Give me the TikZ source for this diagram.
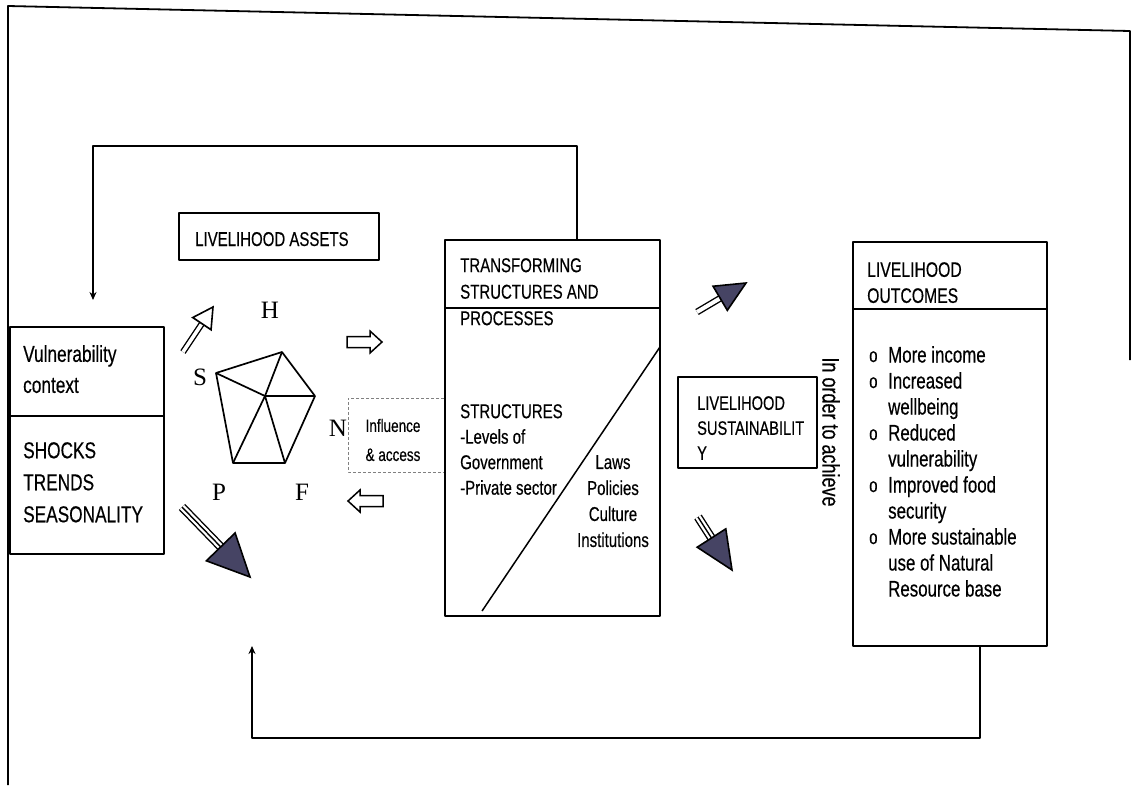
\documentclass[tikz,border=0pt]{standalone}
\usepackage{fontspec}
\setmainfont{Liberation Sans}[FakeStretch=0.75, FakeBold=0.4]
\newfontfamily\letterfont{Liberation Serif}
\usetikzlibrary{arrows.meta,positioning,calc}
\definecolor{headfill}{RGB}{70,68,100}
\newcommand{\fs}[2]{\fontsize{#1}{#2}\selectfont}

\begin{document}
\begin{tikzpicture}[x=1pt, y=-1pt, line join=round,
  box/.style={draw, line width=1.8pt, inner sep=0pt},
  boxtext/.style={anchor=north west, align=left, inner sep=0pt},
  letter/.style={font=\letterfont\fs{25}{25}, inner sep=0pt},
  loopline/.style={line width=1.5pt, -{Stealth[length=8pt, width=7pt]}},
  hollowarrow/.style={draw, line width=1.5pt, line join=miter},
  head/.style={draw, line width=1.6pt, line join=miter},
  dashbox/.style={densely dashed, gray, line width=1pt}]
\useasboundingbox (0,0) rectangle (1135,785);

% outer frame
\draw[line width=1.8pt] (8,785) -- (8,6) -- (1130,31) -- (1130,360);

% vulnerability context
\node[box, minimum width=154pt, minimum height=227pt] (vul) at (87,440.5) {};
\draw[line width=1.8pt] ($(vul.north west)+(0,90)$) -- ($(vul.north east)+(0,90)$);
\node[boxtext, font=\fs{23}{31}] (vultxt) at (23,345) {Vulnerability\\context};
\node[boxtext, font=\fs{23}{32}] (shocks) at (23,442) {SHOCKS\\TRENDS\\SEASONALITY};

% livelihood assets
\node[box, minimum width=200pt, minimum height=47pt] (assets) at (279,236.5) {};
\node[anchor=base west, inner sep=0pt, font=\fs{20}{22}] (assetstxt) at (195,246) {LIVELIHOOD ASSETS};

% asset pentagon
\coordinate (ph) at (282,352);
\coordinate (pr) at (315,396);
\coordinate (pbr) at (285,463);
\coordinate (pbl) at (233,463);
\coordinate (pl) at (216,373);
\coordinate (pc) at (265,396);
\draw[line width=1.7pt] (ph) -- (pr) -- (pbr) -- (pbl) -- (pl) -- cycle;
\foreach \v in {ph,pr,pbr,pbl,pl}
  \draw[line width=1.7pt] (pc) -- (\v);
\node[letter] (lh) at (270,310) {H};
\node[letter] (ls) at (200,377) {S};
\node[letter] (ln) at (338,428) {N};
\node[letter] (lp) at (219,492) {P};
\node[letter] (lf) at (302,492) {F};

% transforming structures and processes
\node[box, minimum width=215pt, minimum height=376pt] (ts) at (552.5,428) {};
\draw[line width=1.8pt] ($(ts.north west)+(0,69)$) -- ($(ts.north east)+(0,69)$);
\draw[line width=1.5pt] ($(ts.north east)+(-1,108)$) -- ($(ts.south west)+(38,-6)$);
\node[boxtext, font=\fs{20}{26.5}] (tstitle) at (460,258) {TRANSFORMING\\STRUCTURES AND\\PROCESSES};
\node[boxtext, font=\fs{20}{25.5}] (structs) at (460,404) {STRUCTURES\\-Levels of\\Government\\-Private sector};
\node[anchor=north, align=center, inner sep=0pt, font=\fs{20}{26}] (procs) at (613,455) {Laws\\Policies\\Culture\\Institutions};

% influence & access
\draw[dashbox] (ts.west |- 0,398) -- (348,398) -- (348,472) -- (ts.west |- 0,472);
\node[align=center, inner sep=0pt, font=\fs{18}{29}] (infl) at (393,440) {Influence\\\& access};
\foreach \cx/\cy/\dir in {364/342/1, 366/501/-1}
  \draw[hollowarrow] (\cx-17*\dir,\cy-5.5) -- (\cx+6*\dir,\cy-5.5) -- (\cx+6*\dir,\cy-11)
    -- (\cx+18*\dir,\cy) -- (\cx+6*\dir,\cy+11) -- (\cx+6*\dir,\cy+5.5) -- (\cx-17*\dir,\cy+5.5) -- cycle;

% livelihood sustainability
\node[box, minimum width=139pt, minimum height=91pt] (sust) at (747.5,422.5) {};
\node[boxtext, font=\fs{19.5}{25}] (susttxt) at (697,396) {LIVELIHOOD\\SUSTAINABILIT\\Y};
\node[rotate=-90, inner sep=0pt, font=\fs{24}{24}] (order) at (831,432) {In order to achieve};

% livelihood outcomes
\node[box, minimum width=194pt, minimum height=404pt] (lo) at (950,444) {};
\draw[line width=1.8pt] ($(lo.north west)+(0,68)$) -- ($(lo.north east)+(0,68)$);
\node[boxtext, font=\fs{21}{26}] (lotitle) at (867,262) {LIVELIHOOD\\OUTCOMES};
\node[boxtext, font=\fs{22.5}{26}] (lobody) at (888,346) {More income\\Increased\\wellbeing\\Reduced\\vulnerability\\Improved food\\security\\More sustainable\\use of Natural\\Resource base};
\foreach \k in {0,1,3,5,7}
  \node[anchor=base west, inner sep=0pt, font=\fs{20}{20}] (bul\k) at (869,362+26*\k) {o};

% fat arrows
\foreach \ar/\tx/\ty/\hx/\hy/\headlen/\headhw/\hf/\dd/\triple in {
    a1/183/352/213/307/20/11/white/3.5/0,
    a2/182/507/250/577/42/20/headfill/6/1,
    a3/697/312/746/283/30/14/headfill/4/0,
    a4/698/517/732/570/38/17/headfill/6/1} {
  \coordinate (\ar-t) at (\tx,\ty);
  \coordinate (\ar-h) at (\hx,\hy);
  \coordinate (\ar-b) at ($(\ar-h)!\headlen pt!(\ar-t)$);
  \draw[double, double distance=\dd pt, line width=1.4pt] (\ar-t) -- (\ar-b);
  \ifnum\triple=1 \draw[line width=1.4pt] (\ar-t) -- (\ar-b); \fi
  \draw[head, fill=\hf] (\ar-h) -- ($(\ar-b)!\headhw pt!90:(\ar-h)$)
    -- ($(\ar-b)!\headhw pt!-90:(\ar-h)$) -- cycle;
}

% feedback loops
\coordinate (fbtop) at (93,300);
\coordinate (fbbot) at (252,646);
\draw[loopline] ([xshift=24.5pt]ts.north) -- ++(0,-93) -| (fbtop);
\draw[loopline] ([xshift=30pt]lo.south) -- ++(0,91) -| (fbbot);
\end{tikzpicture}
\end{document}
